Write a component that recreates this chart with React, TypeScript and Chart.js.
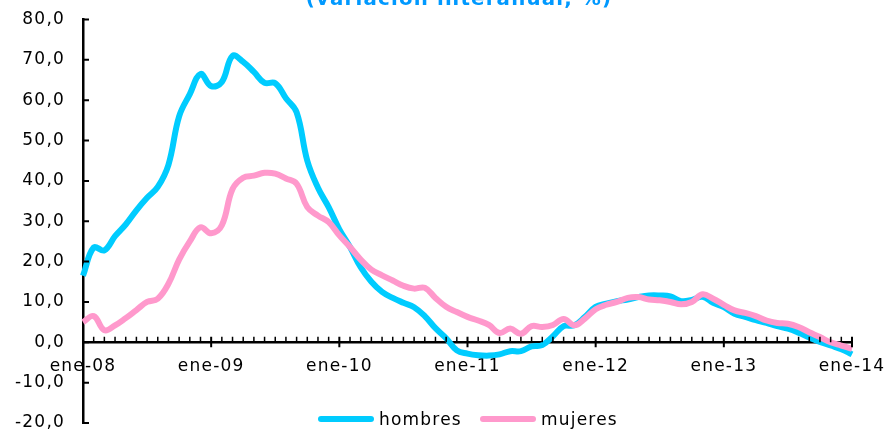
import React, { useEffect, useRef } from 'react';
import { Chart, registerables } from 'chart.js';

Chart.register(...registerables);

const monthNames = ['ene', 'feb', 'mar', 'abr', 'may', 'jun', 'jul', 'ago', 'sep', 'oct', 'nov', 'dic'];
const years = ['08', '09', '10', '11', '12', '13'];
const categories: string[] = [...years.flatMap((y) => monthNames.map((m) => `${m}-${y}`)), 'ene-14'];

const hombres = [
  16.5, 23.5, 22.8, 26.3, 29.2, 32.7, 35.8, 38.5, 44, 56, 61.5, 66.5,
  63.5, 64.5, 71, 69.5, 67, 64.3, 64.2, 60.5, 57, 45, 38.3, 33.5,
  28, 23.6, 18.6, 15, 12.5, 11, 9.8, 8.7, 6.5, 3.5, 1, -2,
  -2.8, -3.2, -3.3, -3, -2.2, -2.2, -1, -0.7, 1.5, 4, 4.2, 6.3,
  8.8, 9.6, 10.2, 10.6, 11.2, 11.6, 11.6, 11.4, 10.2, 10.5, 11.3, 9.8,
  8.7, 7.1, 6.3, 5.5, 4.8, 4, 3.4, 2.4, 1.2, 0.1, -0.8, -1.7,
  -3,
];

const mujeres = [
  5, 6.5, 3, 4.2, 6, 8, 10, 10.8, 14.5, 20.5, 25, 28.5,
  27, 29, 38, 40.8, 41.3, 42, 41.8, 40.6, 39.3, 33.5, 31.4, 29.8,
  26.5, 23.6, 20.5, 18, 16.6, 15.3, 14, 13.3, 13.5, 11, 8.8, 7.5,
  6.3, 5.4, 4.3, 2.3, 3.4, 2.1, 4, 3.8, 4.3, 5.8, 4.2, 5.9,
  8.2, 9.3, 10, 11, 11.2, 10.6, 10.4, 10, 9.4, 10, 11.9, 10.8,
  9.3, 7.9, 7.3, 6.5, 5.4, 4.8, 4.6, 3.8, 2.5, 1.3, 0, -0.8,
  -1.6,
];

const yTicks = [80, 70, 60, 50, 40, 30, 20, 10, 0, -10, -20];
const titleText = '(variación interanual, %)';
const seriesNames = ['hombres', 'mujeres'];
const seriesColors = ['#00CCFF', '#FF99CC'];

const FONT = '"DejaVu Sans", Verdana, sans-serif';
const SPACING = '1.2px';

const decor = {
  id: 'decor',
  beforeDraw(chart: any) {
    (chart.ctx as any).letterSpacing = SPACING;
  },
  afterDraw(chart: any) {
    const { ctx, scales } = chart;
    const x = scales.x;
    const y = scales.y;
    const y0 = y.getPixelForValue(0);
    ctx.save();
    (ctx as any).letterSpacing = SPACING;
    ctx.strokeStyle = '#000';
    // minor ticks
    ctx.lineWidth = 1.5;
    ctx.beginPath();
    categories.forEach((_, i) => {
      if (i % 12 !== 0) {
        const px = x.getPixelForValue(i);
        ctx.moveTo(px, y0 - 5.5);
        ctx.lineTo(px, y0);
      }
    });
    ctx.stroke();
    // major ticks
    ctx.lineWidth = 2;
    ctx.beginPath();
    categories.forEach((_, i) => {
      if (i % 12 === 0) {
        const px = x.getPixelForValue(i);
        ctx.moveTo(px, y0 - 5.5);
        ctx.lineTo(px, y0 + 5);
      }
    });
    yTicks.forEach((v) => {
      const py = y.getPixelForValue(v);
      ctx.moveTo(x.left, py);
      ctx.lineTo(x.left + 6, py);
    });
    ctx.stroke();

    // title
    ctx.fillStyle = '#0099FF';
    ctx.font = `bold 19.8px ${FONT}`;
    ctx.textAlign = 'center';
    ctx.textBaseline = 'alphabetic';
    ctx.fillText(titleText, 459, 5);

    // legend
    ctx.font = `17px ${FONT}`;
    ctx.textAlign = 'left';
    const starts = [318, 480];
    seriesNames.forEach((name, k) => {
      const sx = starts[k];
      ctx.strokeStyle = seriesColors[k];
      ctx.lineWidth = 6;
      ctx.lineCap = 'round';
      ctx.beginPath();
      ctx.moveTo(sx + 3, 419);
      ctx.lineTo(sx + 53, 419);
      ctx.stroke();
      ctx.fillStyle = '#000';
      ctx.fillText(name, sx + 61, 424.5);
    });
    ctx.restore();
  },
};

export default function App() {
  const ref = useRef<HTMLCanvasElement | null>(null);
  useEffect(() => {
    document.body.style.margin = '0';
    if (!ref.current) return;
    const chart = new Chart(ref.current, {
      type: 'line',
      data: {
        labels: categories,
        datasets: [
          {
            label: seriesNames[0],
            data: hombres,
            borderColor: seriesColors[0],
            backgroundColor: seriesColors[0],
            borderWidth: 6,
            pointRadius: 0,
            tension: 0.4,
            order: 1,
          },
          {
            label: seriesNames[1],
            data: mujeres,
            borderColor: seriesColors[1],
            backgroundColor: seriesColors[1],
            borderWidth: 6,
            pointRadius: 0,
            tension: 0.4,
            order: 0,
          },
        ],
      },
      options: {
        animation: false,
        responsive: false,
        layout: { padding: { left: 0, right: 37, top: 19.5, bottom: 6 } },
        plugins: {
          legend: { display: false },
          title: { display: false },
          tooltip: { enabled: false },
        },
        scales: {
          x: {
            type: 'category',
            position: { y: 0 } as any,
            offset: false,
            grid: { display: false, drawTicks: false },
            border: { display: true, color: '#000', width: 2.5 },
            ticks: {
              autoSkip: false,
              maxRotation: 0,
              minRotation: 0,
              padding: 14,
              color: '#000',
              font: { family: FONT, size: 17 },
              callback: (_v: any, i: number) => (i % 12 === 0 ? categories[i] : ''),
            },
            afterFit: (s: any) => {
              s.height = 0;
              s.paddingLeft = 0;
              s.paddingRight = 0;
            },
          },
          y: {
            min: -20,
            max: 80,
            grid: { display: false, drawTicks: false },
            border: { display: true, color: '#000', width: 2.5 },
            ticks: {
              stepSize: 10,
              padding: 18,
              color: '#000',
              font: { family: FONT, size: 17 },
              callback: (v: any) => Number(v).toFixed(1).replace('.', ','),
            },
            afterFit: (s: any) => {
              s.width = 83;
              s.paddingTop = 0;
              s.paddingBottom = 0;
            },
          },
        },
      },
      plugins: [decor],
    });
    return () => chart.destroy();
  }, []);
  return <canvas ref={ref} width={889} height={429} />;
}
